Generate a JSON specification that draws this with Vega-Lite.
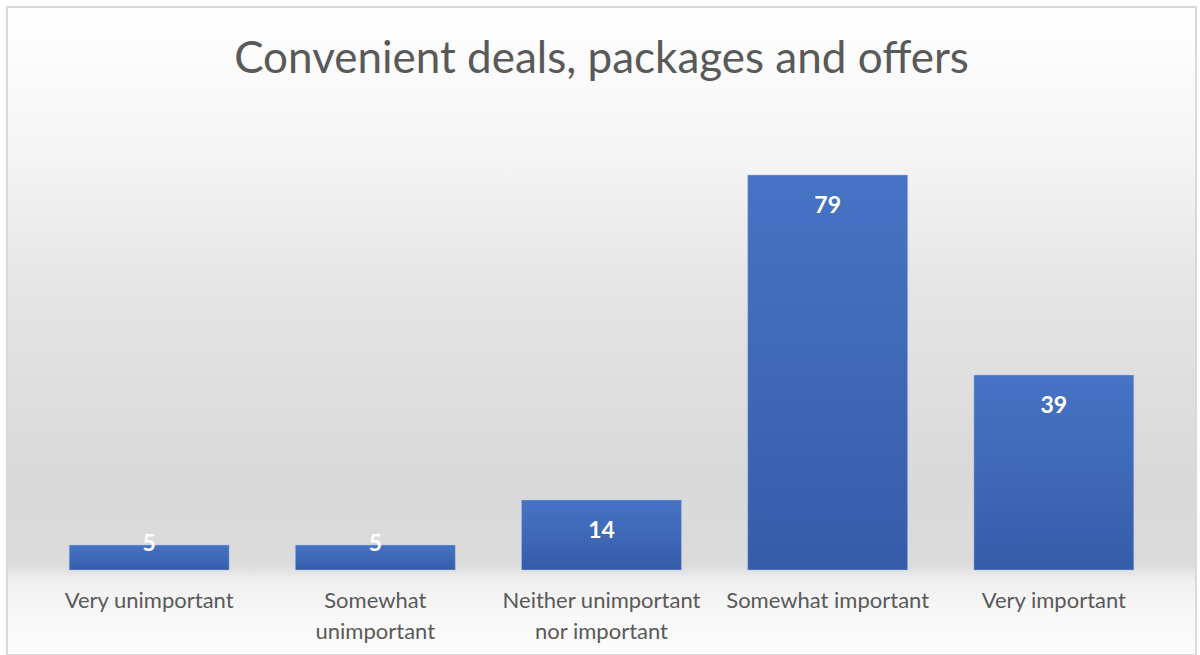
{
  "$schema": "https://vega.github.io/schema/vega-lite/v6.json",
  "autosize": {"type": "none"},
  "padding": {"left": 7, "top": 7, "right": 4, "bottom": 0},
  "width": 1189,
  "height": 648,
  "background": "#ffffff",
  "config": {
    "view": {
      "stroke": "#d9d9d9",
      "strokeWidth": 2,
      "fill": {
        "gradient": "linear", "x1": 0, "y1": 0, "x2": 0, "y2": 1,
        "stops": [
          {"offset": 0, "color": "#ffffff"},
          {"offset": 0.22, "color": "#f5f5f5"},
          {"offset": 0.45, "color": "#e4e4e4"},
          {"offset": 0.73, "color": "#d9d9d9"},
          {"offset": 0.86, "color": "#dbdbdb"},
          {"offset": 0.885, "color": "#efefef"},
          {"offset": 0.93, "color": "#f7f7f7"},
          {"offset": 1, "color": "#fcfcfc"}
        ]
      }
    }
  },
  "title": {
    "text": "Convenient deals, packages and offers",
    "anchor": "middle",
    "frame": "group",
    "baseline": "alphabetic",
    "offset": -70,
    "dy": 40,
    "font": "Lato",
    "fontSize": 44,
    "fontWeight": "normal",
    "color": "#595959"
  },
  "data": {
    "values": [
      {"category": "Very unimportant", "count": 5},
      {"category": "Somewhat unimportant", "count": 5},
      {"category": "Neither unimportant nor important", "count": 14},
      {"category": "Somewhat important", "count": 79},
      {"category": "Very important", "count": 39}
    ]
  },
  "encoding": {
    "x": {
      "field": "category",
      "type": "nominal",
      "sort": null,
      "scale": {"paddingInner": 0.293, "paddingOuter": 0.275},
      "axis": {
        "title": null,
        "orient": "bottom",
        "offset": -85,
        "domain": false,
        "ticks": false,
        "labelAngle": 0,
        "labelPadding": 20,
        "labelFont": "Lato",
        "labelFontSize": 22,
        "labelColor": "#595959",
        "labelLineHeight": 31,
        "labelLimit": 0,
        "labelExpr": "datum.value == 'Somewhat unimportant' ? ['Somewhat', 'unimportant'] : datum.value == 'Neither unimportant nor important' ? ['Neither unimportant', 'nor important'] : datum.value"
      }
    },
    "y": {
      "field": "count",
      "type": "quantitative",
      "scale": {"domain": [-17, 112.6], "nice": false, "zero": false},
      "axis": null
    }
  },
  "layer": [
    {
      "mark": {
        "type": "bar",
        "color": {
          "gradient": "linear", "x1": 0, "y1": 0, "x2": 0, "y2": 1,
          "stops": [
            {"offset": 0, "color": "#4673c4"},
            {"offset": 0.5, "color": "#3f68b8"},
            {"offset": 1, "color": "#345ca9"}
          ]
        },
        "stroke": "#a9bde3",
        "strokeWidth": 0.8,
        "strokeOpacity": 0.6
      },
      "encoding": {"y2": {"datum": 0}}
    },
    {
      "transform": [{"filter": "datum.count >= 10"}],
      "mark": {"type": "text", "dy": 31, "font": "Lato", "fontSize": 23, "fontWeight": "bold", "color": "#ffffff", "baseline": "middle"},
      "encoding": {"text": {"field": "count", "type": "quantitative"}}
    },
    {
      "transform": [{"filter": "datum.count < 10"}],
      "mark": {"type": "text", "dy": -1, "font": "Lato", "fontSize": 23, "fontWeight": "bold", "color": "#ffffff", "baseline": "middle"},
      "encoding": {"text": {"field": "count", "type": "quantitative"}}
    }
  ]
}
